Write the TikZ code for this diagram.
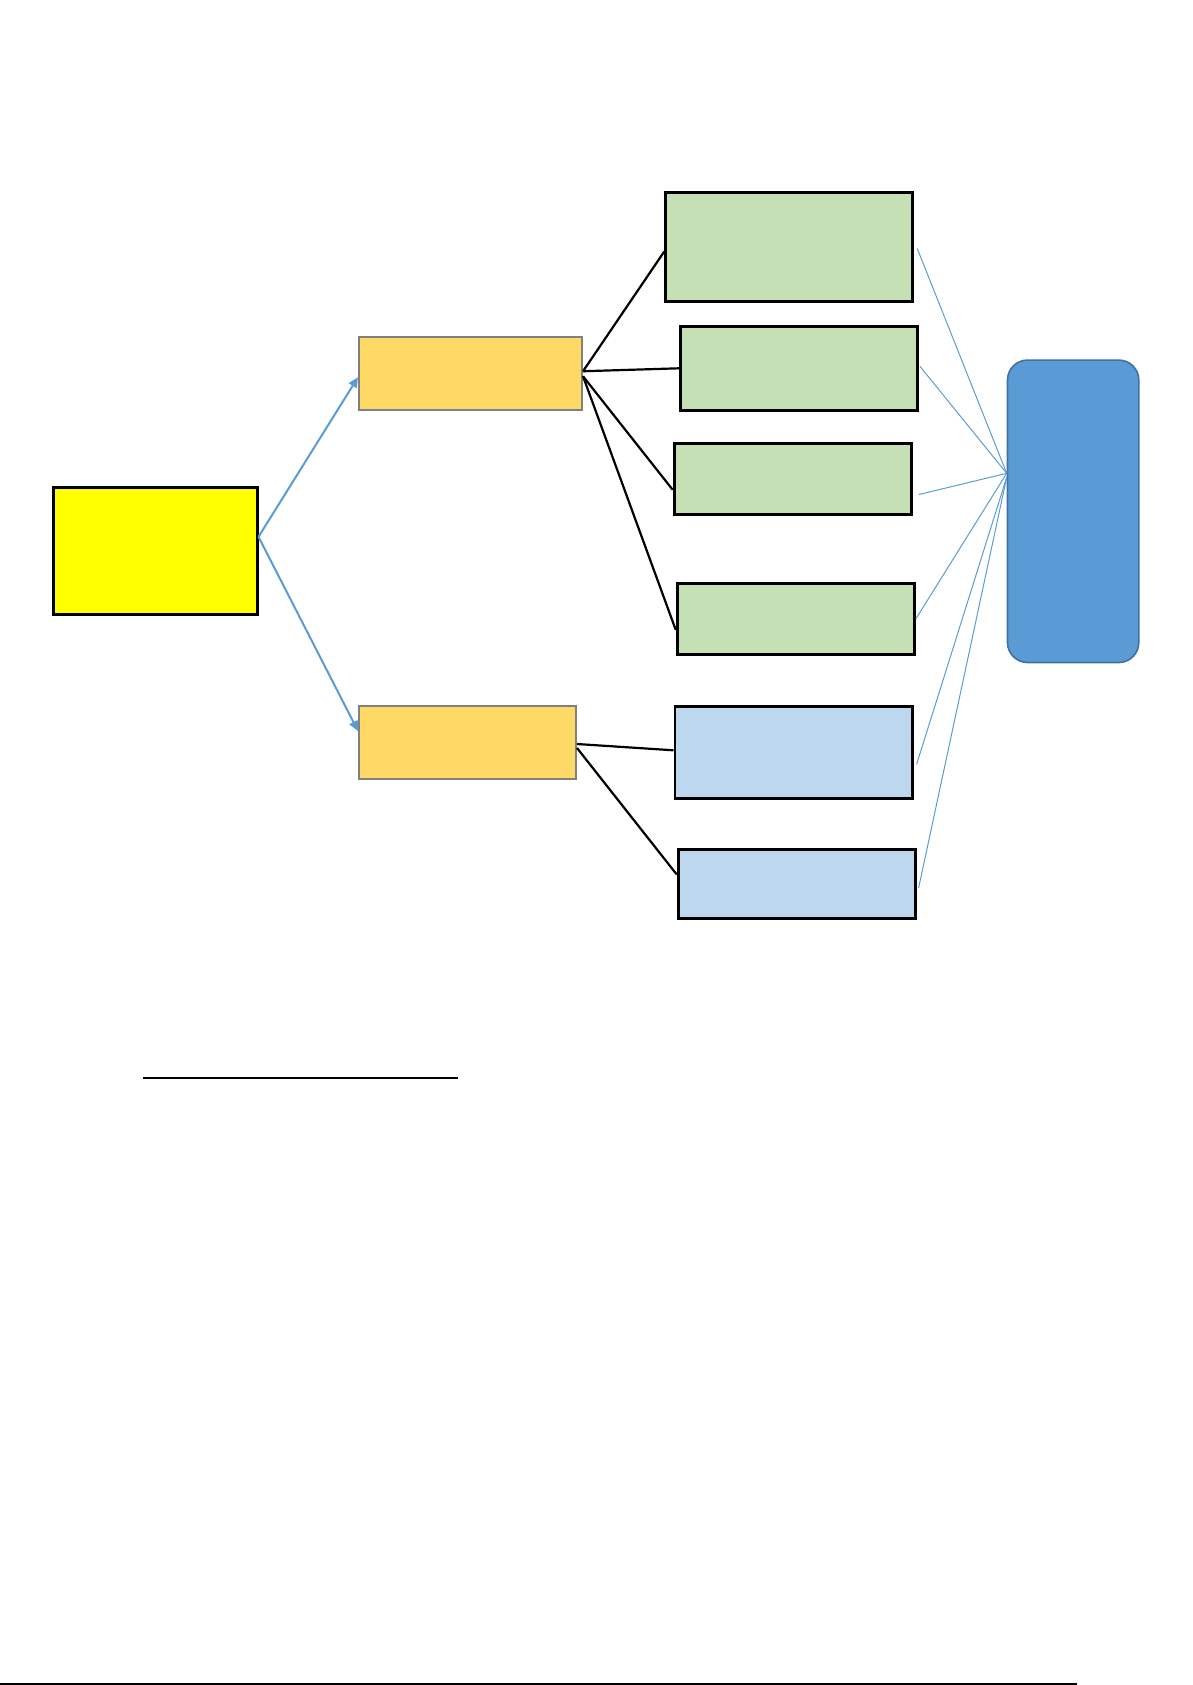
\documentclass[tikz,border=0pt]{standalone}
\usetikzlibrary{arrows.meta}
\definecolor{yel}{HTML}{FFFF00}
\definecolor{orng}{HTML}{FFD966}
\definecolor{orngline}{HTML}{808080}
\definecolor{grn}{HTML}{C5E0B4}
\definecolor{lblue}{HTML}{BDD7EE}
\definecolor{mblue}{HTML}{5B9BD5}
\definecolor{mbluedark}{HTML}{41719C}
\tikzset{
  blackbox/.style={draw=black, line width=2.9pt, inner sep=0pt, anchor=north west},
  orangebox/.style={draw=orngline, fill=orng, line width=2pt, inner sep=0pt, anchor=north west},
  roundbox/.style={draw=mbluedark, fill=mblue, line width=1.6pt, rounded corners=20pt, inner sep=0pt, anchor=north west},
  arrowlink/.style={draw=mblue, line width=2pt, -{Triangle[length=10pt,width=9pt]}},
  blacklink/.style={draw=black, line width=2.2pt},
  thinlink/.style={draw=mblue, line width=1pt},
}
\begin{document}
\begin{tikzpicture}[x=1pt,y=-1pt]
\useasboundingbox (0,0) rectangle (1192,1685);
% nodes
\node[blackbox, fill=yel, minimum width=204pt, minimum height=126.7pt] (y) at (51.6,486) {};
\node[orangebox, minimum width=223pt, minimum height=72.5pt] (o1) at (358,336) {};
\node[orangebox, minimum width=217pt, minimum height=73pt] (o2) at (358,705) {};
\node[blackbox, fill=grn, minimum width=246.5pt, minimum height=109pt] (g1) at (664.3,191) {};
\node[blackbox, fill=grn, minimum width=237pt, minimum height=83.7pt] (g2) at (679,325) {};
\node[blackbox, fill=grn, minimum width=237.3pt, minimum height=70.7pt] (g3) at (672.7,442) {};
\node[blackbox, fill=grn, minimum width=237.3pt, minimum height=70.7pt] (g4) at (675.7,582) {};
\node[blackbox, fill=lblue, minimum width=237.2pt, minimum height=91.7pt] (b1) at (673.5,705) {};
\node[blackbox, fill=lblue, minimum width=237pt, minimum height=69pt] (b2) at (676.7,848) {};
\node[roundbox, minimum width=131.3pt, minimum height=302.4pt] (r) at (1006.7,359.3) {};
% blue arrows
\draw[arrowlink] ([yshift=14pt]y.east) -- ([yshift=-4pt]o1.west);
\draw[arrowlink] ([yshift=14pt]y.east) -- ([yshift=11.5pt]o2.west);
% black links
\draw[blacklink] ([yshift=2pt]o1.east) -- ([yshift=-4.5pt]g1.west);
\draw[blacklink] ([yshift=2pt]o1.east) -- (g2.west);
\draw[blacklink] ([yshift=-3pt]o1.east) -- ([yshift=-11pt]g3.west);
\draw[blacklink] ([yshift=-3pt]o1.east) -- ([yshift=-11pt]g4.west);
\draw[blacklink] ([yshift=-1.5pt]o2.east) -- ([yshift=2pt]b1.west);
\draw[blacklink] ([yshift=-5.5pt]o2.east) -- ([yshift=9.5pt]b2.west);
% thin blue links
\coordinate (c1) at ([yshift=38pt]r.west);
\coordinate (c2) at ([yshift=34pt]r.west);
\draw[thinlink] ([xshift=3.5pt,yshift=-1.5pt]g1.east) -- (c1);
\draw[thinlink] ([xshift=1pt,yshift=2pt]g2.east) -- (c1);
\draw[thinlink] ([xshift=6pt,yshift=-15.7pt]g3.east) -- (c1);
\draw[thinlink] (g4.east) -- (c1);
\draw[thinlink] ([xshift=3pt,yshift=-12pt]b1.east) -- (c2);
\draw[thinlink] ([xshift=2pt,yshift=-4pt]b2.east) -- (c2);
% underline and page rule
\draw[line width=2pt] (143,1077.7) -- (457.7,1077.7);
\draw[line width=1.2pt] (0,1684) -- (1077,1684);
\end{tikzpicture}
\end{document}
